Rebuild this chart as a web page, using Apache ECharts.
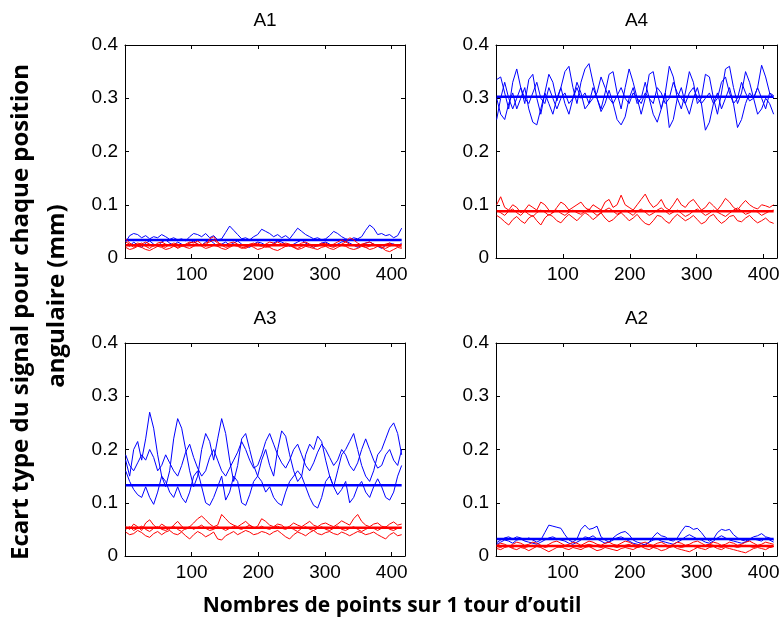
<!DOCTYPE html>
<html>
<head>
<meta charset="utf-8">
<script src="https://cdn.jsdelivr.net/npm/echarts@6/dist/echarts.min.js"></script>
<style>html,body{margin:0;padding:0;background:#fff}#c{width:784px;height:625px}</style>
</head>
<body>
<div id="c"></div>
<script>
// ---------- DATA ----------
const panelTitles = ['A1', 'A4', 'A3', 'A2'];
const xTicks = [100, 200, 300, 400];
const yTicks = [0, 0.1, 0.2, 0.3, 0.4];
const xPoints = [
  1,7,13,19,25,31,37,43,49,55,
  61,67,73,79,85,91,97,103,109,115,
  121,127,133,139,145,151,157,163,169,175,
  181,187,193,199,205,211,217,223,229,235,
  241,247,253,259,265,271,277,283,289,295,
  301,307,313,319,325,331,337,343,349,355,
  361,367,373,379,385,391,397,403,409,415];
const meanSpan = [1, 415];
const meansBlue = [0.034, 0.303, 0.133, 0.032];
const meansRed  = [0.024, 0.088, 0.053, 0.019];

// A1
const a1Blue1 = [
  0.030,0.042,0.046,0.044,0.038,0.042,0.036,0.040,0.038,0.044,
  0.040,0.035,0.038,0.034,0.036,0.032,0.040,0.046,0.044,0.040,
  0.046,0.038,0.042,0.034,0.036,0.048,0.060,0.052,0.044,0.036,
  0.038,0.034,0.040,0.044,0.054,0.050,0.046,0.040,0.044,0.038,
  0.042,0.036,0.046,0.056,0.050,0.044,0.040,0.036,0.038,0.034,
  0.036,0.042,0.050,0.046,0.040,0.036,0.034,0.038,0.036,0.040,
  0.052,0.062,0.056,0.044,0.046,0.042,0.044,0.038,0.042,0.056];
const a1Blue2 = [
  0.026,0.022,0.030,0.024,0.020,0.028,0.032,0.026,0.022,0.030,
  0.034,0.028,0.024,0.030,0.026,0.022,0.028,0.032,0.026,0.024,
  0.030,0.034,0.028,0.022,0.026,0.030,0.024,0.028,0.032,0.026,
  0.022,0.020,0.026,0.030,0.028,0.024,0.022,0.028,0.032,0.030,
  0.026,0.022,0.026,0.030,0.034,0.028,0.024,0.020,0.024,0.028,
  0.030,0.026,0.022,0.026,0.030,0.032,0.028,0.024,0.020,0.024,
  0.028,0.030,0.026,0.022,0.018,0.024,0.028,0.026,0.022,0.028];
const a1Red1 = [
  0.030,0.026,0.020,0.024,0.028,0.022,0.018,0.024,0.026,0.022,
  0.020,0.026,0.024,0.018,0.022,0.026,0.030,0.028,0.032,0.026,
  0.022,0.036,0.040,0.030,0.024,0.020,0.022,0.026,0.024,0.020,
  0.018,0.022,0.026,0.028,0.024,0.020,0.022,0.026,0.030,0.026,
  0.022,0.024,0.020,0.018,0.022,0.026,0.024,0.020,0.024,0.028,
  0.026,0.022,0.020,0.024,0.026,0.030,0.038,0.034,0.028,0.024,
  0.020,0.022,0.026,0.024,0.020,0.018,0.022,0.026,0.024,0.020];
const a1Red2 = [
  0.020,0.016,0.018,0.022,0.020,0.016,0.014,0.018,0.022,0.020,
  0.016,0.018,0.022,0.020,0.024,0.020,0.018,0.022,0.026,0.022,
  0.018,0.020,0.024,0.022,0.018,0.016,0.020,0.024,0.022,0.018,
  0.020,0.024,0.020,0.016,0.018,0.022,0.020,0.016,0.014,0.018,
  0.022,0.024,0.020,0.016,0.018,0.022,0.020,0.018,0.016,0.020,
  0.022,0.018,0.016,0.020,0.024,0.022,0.018,0.016,0.018,0.022,
  0.020,0.016,0.018,0.022,0.020,0.014,0.012,0.016,0.020,0.018];
const a1Red3 = [
  0.036,0.028,0.024,0.028,0.026,0.030,0.026,0.022,0.028,0.030,
  0.026,0.024,0.028,0.026,0.022,0.024,0.028,0.030,0.026,0.024,
  0.028,0.030,0.034,0.028,0.026,0.024,0.028,0.030,0.026,0.024,
  0.022,0.026,0.028,0.024,0.022,0.026,0.030,0.028,0.024,0.026,
  0.028,0.026,0.022,0.024,0.028,0.030,0.026,0.024,0.022,0.026,
  0.028,0.024,0.026,0.030,0.034,0.030,0.026,0.024,0.022,0.026,
  0.028,0.030,0.026,0.022,0.024,0.026,0.028,0.024,0.022,0.026];

// A4
const a4Blue1 = [
  0.335,0.340,0.310,0.280,0.330,0.355,0.320,0.290,0.335,0.345,
  0.300,0.270,0.310,0.345,0.330,0.295,0.320,0.350,0.360,0.320,
  0.290,0.330,0.355,0.365,0.330,0.300,0.280,0.310,0.345,0.350,
  0.310,0.280,0.320,0.355,0.330,0.300,0.270,0.300,0.345,0.350,
  0.310,0.280,0.310,0.360,0.340,0.300,0.280,0.310,0.350,0.330,
  0.290,0.300,0.345,0.340,0.300,0.270,0.310,0.355,0.360,0.320,
  0.290,0.310,0.350,0.330,0.300,0.320,0.362,0.340,0.310,0.300];
const a4Blue2 = [
  0.300,0.270,0.260,0.290,0.310,0.280,0.300,0.320,0.280,0.255,
  0.250,0.280,0.310,0.290,0.270,0.300,0.320,0.290,0.270,0.300,
  0.330,0.310,0.280,0.290,0.320,0.300,0.275,0.290,0.315,0.290,
  0.260,0.250,0.265,0.300,0.320,0.290,0.300,0.330,0.300,0.270,
  0.255,0.280,0.310,0.245,0.260,0.300,0.320,0.290,0.270,0.300,
  0.320,0.290,0.240,0.255,0.290,0.310,0.280,0.300,0.320,0.290,
  0.245,0.260,0.290,0.310,0.300,0.270,0.280,0.300,0.290,0.270];
const a4Blue3 = [
  0.260,0.300,0.330,0.300,0.280,0.300,0.320,0.300,0.290,0.310,
  0.330,0.300,0.290,0.320,0.300,0.280,0.300,0.310,0.290,0.300,
  0.320,0.300,0.310,0.290,0.300,0.310,0.340,0.320,0.300,0.290,
  0.305,0.320,0.300,0.290,0.310,0.300,0.290,0.310,0.300,0.290,
  0.320,0.310,0.290,0.300,0.330,0.310,0.300,0.290,0.310,0.320,
  0.300,0.290,0.300,0.310,0.290,0.300,0.330,0.340,0.310,0.290,
  0.300,0.330,0.310,0.295,0.300,0.320,0.300,0.280,0.310,0.305];
const a4Red1 = [
  0.100,0.115,0.095,0.090,0.100,0.095,0.085,0.090,0.100,0.095,
  0.090,0.105,0.100,0.090,0.085,0.095,0.105,0.100,0.090,0.095,
  0.100,0.105,0.095,0.090,0.100,0.095,0.090,0.105,0.110,0.095,
  0.100,0.118,0.100,0.095,0.090,0.100,0.110,0.120,0.105,0.095,
  0.100,0.110,0.095,0.090,0.100,0.112,0.100,0.095,0.105,0.110,
  0.100,0.090,0.095,0.105,0.098,0.090,0.100,0.112,0.105,0.095,
  0.090,0.100,0.108,0.100,0.095,0.092,0.100,0.098,0.095,0.100];
const a4Red2 = [
  0.080,0.075,0.068,0.062,0.072,0.078,0.070,0.065,0.075,0.080,
  0.070,0.062,0.075,0.082,0.078,0.070,0.066,0.075,0.082,0.076,
  0.070,0.078,0.085,0.080,0.072,0.078,0.085,0.075,0.068,0.072,
  0.080,0.085,0.078,0.070,0.075,0.082,0.072,0.065,0.062,0.070,
  0.080,0.078,0.070,0.065,0.075,0.082,0.076,0.070,0.074,0.080,
  0.072,0.064,0.068,0.078,0.082,0.072,0.065,0.070,0.078,0.080,
  0.070,0.068,0.075,0.080,0.072,0.066,0.070,0.075,0.068,0.065];
const a4Red3 = [
  0.090,0.085,0.080,0.088,0.092,0.085,0.080,0.088,0.082,0.078,
  0.085,0.090,0.086,0.080,0.085,0.090,0.084,0.080,0.086,0.090,
  0.085,0.082,0.088,0.092,0.086,0.080,0.085,0.090,0.094,0.088,
  0.082,0.086,0.090,0.085,0.080,0.088,0.092,0.086,0.080,0.084,
  0.090,0.094,0.088,0.082,0.086,0.090,0.084,0.078,0.082,0.088,
  0.092,0.086,0.080,0.084,0.090,0.086,0.082,0.078,0.084,0.090,
  0.094,0.088,0.082,0.085,0.090,0.086,0.080,0.084,0.088,0.090];

// A3
const a3Blue1 = [
  0.180,0.150,0.200,0.215,0.180,0.220,0.270,0.240,0.190,0.150,
  0.130,0.160,0.220,0.258,0.240,0.200,0.160,0.130,0.150,0.200,
  0.230,0.215,0.180,0.220,0.258,0.230,0.180,0.140,0.170,0.220,
  0.230,0.200,0.170,0.150,0.180,0.200,0.170,0.150,0.200,0.235,
  0.225,0.190,0.160,0.140,0.150,0.190,0.210,0.200,0.225,0.215,
  0.180,0.150,0.130,0.160,0.190,0.200,0.215,0.230,0.200,0.170,
  0.150,0.140,0.160,0.190,0.200,0.220,0.240,0.250,0.230,0.190];
const a3Blue2 = [
  0.190,0.170,0.160,0.175,0.190,0.180,0.200,0.185,0.160,0.170,
  0.190,0.175,0.160,0.150,0.170,0.195,0.210,0.185,0.165,0.150,
  0.160,0.185,0.200,0.180,0.160,0.150,0.165,0.180,0.195,0.215,
  0.200,0.180,0.165,0.170,0.190,0.215,0.230,0.210,0.190,0.175,
  0.165,0.180,0.200,0.210,0.190,0.170,0.160,0.175,0.195,0.210,
  0.200,0.185,0.170,0.180,0.200,0.190,0.170,0.160,0.175,0.200,
  0.220,0.200,0.180,0.165,0.170,0.190,0.200,0.180,0.170,0.200];
const a3Blue3 = [
  0.160,0.140,0.125,0.115,0.110,0.130,0.110,0.097,0.120,0.150,
  0.140,0.120,0.110,0.130,0.110,0.100,0.120,0.150,0.160,0.130,
  0.100,0.095,0.110,0.130,0.150,0.105,0.120,0.150,0.140,0.100,
  0.095,0.115,0.140,0.150,0.140,0.120,0.130,0.110,0.100,0.095,
  0.120,0.140,0.150,0.160,0.150,0.130,0.110,0.095,0.090,0.110,
  0.140,0.150,0.130,0.115,0.125,0.140,0.100,0.110,0.130,0.140,
  0.120,0.110,0.130,0.145,0.130,0.110,0.105,0.120,0.150,0.170];
const a3Red1 = [
  0.055,0.050,0.060,0.055,0.048,0.062,0.068,0.058,0.052,0.060,
  0.055,0.050,0.058,0.065,0.056,0.050,0.055,0.062,0.070,0.075,
  0.068,0.060,0.055,0.058,0.078,0.070,0.062,0.058,0.055,0.060,
  0.065,0.058,0.052,0.056,0.070,0.065,0.058,0.055,0.060,0.058,
  0.052,0.056,0.062,0.058,0.055,0.060,0.065,0.058,0.055,0.060,
  0.062,0.058,0.055,0.060,0.066,0.062,0.058,0.070,0.078,0.065,
  0.058,0.055,0.060,0.062,0.056,0.054,0.060,0.064,0.058,0.060];
const a3Red2 = [
  0.045,0.040,0.042,0.048,0.044,0.038,0.035,0.042,0.046,0.040,
  0.045,0.048,0.042,0.040,0.045,0.038,0.032,0.040,0.046,0.042,
  0.036,0.040,0.045,0.032,0.030,0.038,0.042,0.046,0.040,0.044,
  0.048,0.045,0.040,0.042,0.046,0.044,0.040,0.045,0.048,0.042,
  0.036,0.032,0.040,0.045,0.042,0.038,0.044,0.048,0.042,0.040,
  0.044,0.046,0.042,0.040,0.045,0.042,0.038,0.042,0.046,0.044,
  0.040,0.042,0.045,0.040,0.036,0.032,0.040,0.044,0.038,0.040];
const a3Red3 = [
  0.050,0.055,0.048,0.052,0.056,0.050,0.046,0.052,0.055,0.050,
  0.048,0.052,0.056,0.050,0.046,0.052,0.055,0.050,0.054,0.058,
  0.052,0.048,0.050,0.055,0.052,0.048,0.052,0.056,0.052,0.050,
  0.054,0.058,0.054,0.052,0.056,0.052,0.050,0.054,0.056,0.052,
  0.050,0.054,0.050,0.046,0.052,0.055,0.050,0.048,0.052,0.055,
  0.050,0.048,0.052,0.056,0.050,0.048,0.052,0.055,0.050,0.046,
  0.050,0.054,0.052,0.048,0.052,0.055,0.050,0.048,0.052,0.054];

// A2
const a2Blue1 = [
  0.025,0.030,0.034,0.036,0.032,0.036,0.034,0.030,0.034,0.030,
  0.026,0.030,0.044,0.058,0.056,0.054,0.052,0.040,0.030,0.026,
  0.032,0.050,0.058,0.050,0.052,0.056,0.036,0.030,0.026,0.034,
  0.040,0.044,0.046,0.040,0.030,0.026,0.024,0.020,0.026,0.036,
  0.044,0.038,0.036,0.030,0.028,0.034,0.046,0.056,0.055,0.050,
  0.052,0.044,0.034,0.028,0.032,0.044,0.050,0.048,0.050,0.040,
  0.034,0.030,0.028,0.032,0.036,0.038,0.042,0.036,0.034,0.030];
const a2Blue2 = [
  0.022,0.026,0.030,0.028,0.024,0.030,0.032,0.028,0.026,0.024,
  0.022,0.026,0.030,0.034,0.036,0.032,0.030,0.028,0.024,0.022,
  0.026,0.030,0.036,0.034,0.038,0.032,0.028,0.024,0.026,0.030,
  0.034,0.036,0.032,0.028,0.024,0.022,0.020,0.022,0.026,0.030,
  0.032,0.028,0.026,0.024,0.022,0.026,0.030,0.036,0.040,0.036,
  0.032,0.030,0.026,0.024,0.028,0.034,0.038,0.034,0.030,0.028,
  0.026,0.024,0.026,0.030,0.032,0.030,0.028,0.034,0.030,0.026];
const a2Red1 = [
  0.020,0.024,0.022,0.018,0.022,0.026,0.024,0.020,0.022,0.026,
  0.024,0.020,0.018,0.022,0.026,0.028,0.024,0.020,0.022,0.026,
  0.024,0.020,0.024,0.028,0.026,0.022,0.020,0.024,0.026,0.022,
  0.020,0.024,0.028,0.026,0.022,0.020,0.024,0.026,0.022,0.020,
  0.024,0.026,0.022,0.018,0.022,0.026,0.024,0.020,0.022,0.026,
  0.028,0.024,0.020,0.022,0.026,0.024,0.020,0.022,0.026,0.024,
  0.020,0.022,0.026,0.028,0.024,0.020,0.022,0.026,0.024,0.022];
const a2Red2 = [
  0.014,0.012,0.016,0.018,0.014,0.012,0.016,0.014,0.010,0.014,
  0.018,0.016,0.012,0.008,0.012,0.016,0.018,0.014,0.012,0.016,
  0.014,0.012,0.016,0.018,0.014,0.010,0.012,0.016,0.014,0.012,
  0.010,0.014,0.016,0.014,0.012,0.016,0.018,0.014,0.012,0.016,
  0.014,0.010,0.012,0.016,0.018,0.014,0.012,0.010,0.008,0.012,
  0.016,0.014,0.012,0.016,0.018,0.014,0.012,0.016,0.014,0.012,
  0.010,0.008,0.006,0.010,0.014,0.016,0.014,0.012,0.016,0.018];
const a2Red3 = [
  0.018,0.016,0.020,0.018,0.016,0.020,0.018,0.016,0.018,0.020,
  0.018,0.020,0.016,0.018,0.020,0.018,0.016,0.020,0.018,0.020,
  0.018,0.016,0.020,0.022,0.020,0.018,0.016,0.018,0.020,0.018,
  0.016,0.018,0.020,0.022,0.018,0.016,0.018,0.020,0.018,0.016,
  0.018,0.020,0.018,0.016,0.020,0.018,0.016,0.018,0.020,0.018,
  0.016,0.018,0.020,0.022,0.020,0.018,0.016,0.018,0.020,0.018,
  0.016,0.018,0.020,0.018,0.016,0.018,0.020,0.018,0.016,0.018];

const panelBlue = [[a1Blue1, a1Blue2], [a4Blue1, a4Blue2, a4Blue3], [a3Blue1, a3Blue2, a3Blue3], [a2Blue1, a2Blue2]];
const panelRed  = [[a1Red1, a1Red2, a1Red3], [a4Red1, a4Red2, a4Red3], [a3Red1, a3Red2, a3Red3], [a2Red1, a2Red2, a2Red3]];

// ---------- LAYOUT / STYLE ----------
const grids = [
  {left: 125, top: 45, width: 280, height: 213},
  {left: 496, top: 45, width: 281, height: 213},
  {left: 125, top: 343, width: 280, height: 213},
  {left: 496, top: 343, width: 281, height: 213}
];
const BLUE = '#0000ff', RED = '#ff0000';
const tickFont = 'Liberation Sans';

const chart = echarts.init(document.getElementById('c'), null, {renderer: 'canvas'});
const xAxes = [], yAxes = [], series = [], graphics = [];

grids.forEach((g, gi) => {
  const lineCol = {color: '#000', width: 1};
  const baseX = {
    gridIndex: gi, type: 'value', min: 0, max: 420, interval: 100,
    axisLine: {show: true, onZero: false, lineStyle: lineCol},
    axisTick: {show: true, inside: true, length: 4, lineStyle: lineCol},
    splitLine: {show: false}
  };
  xAxes.push(Object.assign({}, baseX, {
    position: 'bottom',
    axisLabel: {show: true, color: '#000', fontSize: 19, fontFamily: tickFont, margin: 7,
      showMinLabel: false, showMaxLabel: false,
      formatter: v => xTicks.indexOf(v) >= 0 ? String(v) : ''}
  }));
  xAxes.push(Object.assign({}, baseX, {position: 'top', axisLabel: {show: false}}));
  const baseY = {
    gridIndex: gi, type: 'value', min: yTicks[0], max: yTicks[yTicks.length - 1], interval: 0.1,
    axisLine: {show: true, onZero: false, lineStyle: lineCol},
    axisTick: {show: true, inside: true, length: 4, lineStyle: lineCol},
    splitLine: {show: false}
  };
  yAxes.push(Object.assign({}, baseY, {
    position: 'left',
    axisLabel: {show: true, color: '#000', fontSize: 19, fontFamily: tickFont, margin: 7,
      formatter: v => v === 0 ? '0' : v.toFixed(1)}
  }));
  yAxes.push(Object.assign({}, baseY, {position: 'right', axisLabel: {show: false}}));

  const xi = gi * 2, yi = gi * 2;
  const mk = arr => arr.map((v, i) => [xPoints[i], v]);
  panelBlue[gi].forEach(arr => series.push({
    type: 'line', xAxisIndex: xi, yAxisIndex: yi, data: mk(arr), showSymbol: false, symbol: 'none',
    lineStyle: {color: BLUE, width: 1}, silent: true, z: 2
  }));
  series.push({
    type: 'line', xAxisIndex: xi, yAxisIndex: yi,
    data: meanSpan.map(x => [x, meansBlue[gi]]), showSymbol: false, symbol: 'none',
    lineStyle: {color: BLUE, width: 2.5}, silent: true, z: 3
  });
  panelRed[gi].forEach(arr => series.push({
    type: 'line', xAxisIndex: xi, yAxisIndex: yi, data: mk(arr), showSymbol: false, symbol: 'none',
    lineStyle: {color: RED, width: 1}, silent: true, z: 4
  }));
  series.push({
    type: 'line', xAxisIndex: xi, yAxisIndex: yi,
    data: meanSpan.map(x => [x, meansRed[gi]]), showSymbol: false, symbol: 'none',
    lineStyle: {color: RED, width: 2.5}, silent: true, z: 5
  });

  graphics.push({
    type: 'text', x: g.left + g.width / 2, y: g.top - 24,
    style: {text: panelTitles[gi], fill: '#000', fontSize: 19, fontFamily: tickFont,
      align: 'center', verticalAlign: 'middle'}
  });
});

const labelFont = 'Open Sans';
graphics.push({
  type: 'text', x: 21, y: 312, rotation: Math.PI / 2,
  style: {text: 'Ecart type du signal pour chaque position', fill: '#000', fontSize: 24,
    fontWeight: 'bold', fontFamily: labelFont, align: 'center', verticalAlign: 'middle'}
});
graphics.push({
  type: 'text', x: 57, y: 296, rotation: Math.PI / 2,
  style: {text: 'angulaire (mm)', fill: '#000', fontSize: 24,
    fontWeight: 'bold', fontFamily: labelFont, align: 'center', verticalAlign: 'middle'}
});
graphics.push({
  type: 'text', x: 392, y: 606,
  style: {text: 'Nombres de points sur 1 tour d\u2019outil', fill: '#000', fontSize: 21,
    fontWeight: 'bold', fontFamily: labelFont, align: 'center', verticalAlign: 'middle'}
});

chart.setOption({
  animation: false,
  backgroundColor: '#fff',
  grid: grids.map(g => Object.assign({show: false, containLabel: false}, g)),
  xAxis: xAxes,
  yAxis: yAxes,
  series: series,
  graphic: graphics
});
</script>
</body>
</html>
